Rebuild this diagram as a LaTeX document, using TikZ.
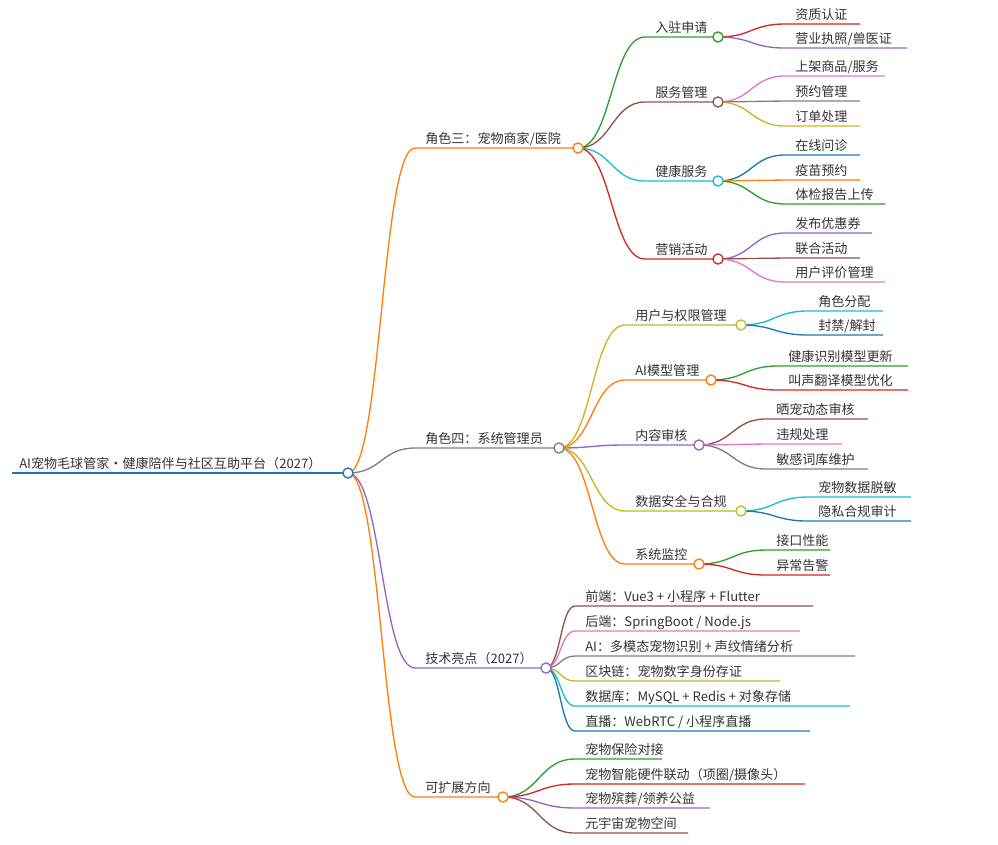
\documentclass[tikz,border=0pt]{standalone}
\usepackage{fontspec}
\setmainfont{Noto Sans CJK SC}
\usetikzlibrary{calc}
\definecolor{cO}{HTML}{FF7F0E}\definecolor{cG}{HTML}{2CA02C}\definecolor{cBr}{HTML}{8C564B}
\definecolor{cC}{HTML}{17BECF}\definecolor{cR}{HTML}{D62728}\definecolor{cP}{HTML}{9467BD}
\definecolor{cPk}{HTML}{E377C2}\definecolor{cGr}{HTML}{7F7F7F}\definecolor{cOl}{HTML}{BCBD22}
\definecolor{cB}{HTML}{1F77B4}\definecolor{txt}{HTML}{333333}
\tikzset{lbl/.style={anchor=base west,text=txt,inner sep=0pt,font=\fontsize{9.8pt}{11pt}\selectfont},
 ln/.style={line width=1pt},
 dot/.style={ln,fill=white}}
% #1 parent, #2 name, #3 xstart, #4 y, #5 xend, #6 color, #7 text
\newcommand\mmn[7]{%
 \coordinate (#2s) at (#3,#4);
 \coordinate (#2) at (#5,#4);
 \draw[ln,#6] let \p1=(#1), \p2=(#2s), \n1={(\x2-\x1)/2} in
   (#1) .. controls +(\n1,0pt) and +(-\n1,0pt) .. (#2s) -- (#2);
 \node[lbl] (#2t) at ($(#2s)+(10,-5)$) {#7};}
\newcommand\mmdot[2]{\draw[dot,draw=#2] (#1) circle[radius=3.8pt];}
\begin{document}
\begin{tikzpicture}[x=0.75pt,y=-0.75pt]
\useasboundingbox (0,0) rectangle (998,844);
\coordinate (roots) at (12,473); \coordinate (root) at (348,473);
\draw[ln,cB] (roots) -- (root);
\node[lbl] (roott) at (19,468) {AI宠物毛球管家・健康陪伴与社区互助平台（2027）};
\mmn{root}{a}{415}{148}{578}{cO}{角色三：宠物商家/医院}
\mmn{root}{b}{415}{448}{559}{cGr}{角色四：系统管理员}
\mmn{root}{c}{415}{668}{546}{cP}{技术亮点（2027）}
\mmn{root}{d}{415}{797}{503}{cO}{可扩展方向}
% role 3
\mmn{a}{a1}{645}{37}{718}{cG}{入驻申请}
\mmn{a}{a2}{645}{102}{718}{cBr}{服务管理}
\mmn{a}{a3}{645}{181}{718}{cC}{健康服务}
\mmn{a}{a4}{645}{259}{718}{cR}{营销活动}
\mmn{a1}{a11}{785}{24}{860}{cR}{资质认证}
\mmn{a1}{a12}{785}{48}{907}{cP}{营业执照/兽医证}
\mmn{a2}{a21}{785}{76}{885}{cPk}{上架商品/服务}
\mmn{a2}{a22}{785}{101}{860}{cGr}{预约管理}
\mmn{a2}{a23}{785}{126}{860}{cOl}{订单处理}
\mmn{a3}{a31}{785}{155}{860}{cB}{在线问诊}
\mmn{a3}{a32}{785}{180}{860}{cO}{疫苗预约}
\mmn{a3}{a33}{785}{204}{885}{cG}{体检报告上传}
\mmn{a4}{a41}{785}{233}{872}{cP}{发布优惠券}
\mmn{a4}{a42}{785}{258}{860}{cBr}{联合活动}
\mmn{a4}{a43}{785}{282}{885}{cPk}{用户评价管理}
% role 4
\mmn{b}{b1}{625}{325}{741}{cOl}{用户与权限管理}
\mmn{b}{b2}{625}{380}{711}{cO}{AI模型管理}
\mmn{b}{b3}{625}{445}{699}{cP}{内容审核}
\mmn{b}{b4}{625}{511}{741}{cOl}{数据安全与合规}
\mmn{b}{b5}{625}{564}{699}{cO}{系统监控}
\mmn{b1}{b11}{808}{311}{883}{cC}{角色分配}
\mmn{b1}{b12}{808}{335}{883}{cB}{封禁/解封}
\mmn{b2}{b21}{778}{366}{908}{cG}{健康识别模型更新}
\mmn{b2}{b22}{778}{390}{908}{cR}{叫声翻译模型优化}
\mmn{b3}{b31}{766}{419}{868}{cBr}{晒宠动态审核}
\mmn{b3}{b32}{766}{444}{842}{cPk}{违规处理}
\mmn{b3}{b33}{766}{469}{868}{cGr}{敏感词库维护}
\mmn{b4}{b41}{808}{497}{911}{cC}{宠物数据脱敏}
\mmn{b4}{b42}{808}{521}{911}{cB}{隐私合规审计}
\mmn{b5}{b51}{766}{550}{830}{cG}{接口性能}
\mmn{b5}{b52}{766}{575}{830}{cR}{异常告警}
% tech
\mmn{c}{c1}{575}{606}{813}{cBr}{前端：Vue3 + 小程序 + Flutter}
\mmn{c}{c2}{575}{631}{800}{cPk}{后端：SpringBoot / Node.js}
\mmn{c}{c3}{575}{656}{855}{cGr}{AI：多模态宠物识别 + 声纹情绪分析}
\mmn{c}{c4}{575}{681}{780}{cOl}{区块链：宠物数字身份存证}
\mmn{c}{c5}{575}{706}{850}{cC}{数据库：MySQL + Redis + 对象存储}
\mmn{c}{c6}{575}{731}{810}{cB}{直播：WebRTC / 小程序直播}
% extension
\mmn{d}{d1}{575}{759}{662}{cG}{宠物保险对接}
\mmn{d}{d2}{575}{784}{805}{cR}{宠物智能硬件联动（项圈/摄像头）}
\mmn{d}{d3}{575}{808}{710}{cP}{宠物殡葬/领养公益}
\mmn{d}{d4}{575}{833}{688}{cBr}{元宇宙宠物空间}
% dots
\mmdot{root}{cB}\mmdot{a}{cO}\mmdot{b}{cGr}\mmdot{c}{cP}\mmdot{d}{cO}
\mmdot{a1}{cG}\mmdot{a2}{cBr}\mmdot{a3}{cC}\mmdot{a4}{cR}
\mmdot{b1}{cOl}\mmdot{b2}{cO}\mmdot{b3}{cP}\mmdot{b4}{cOl}\mmdot{b5}{cO}
\end{tikzpicture}
\end{document}
